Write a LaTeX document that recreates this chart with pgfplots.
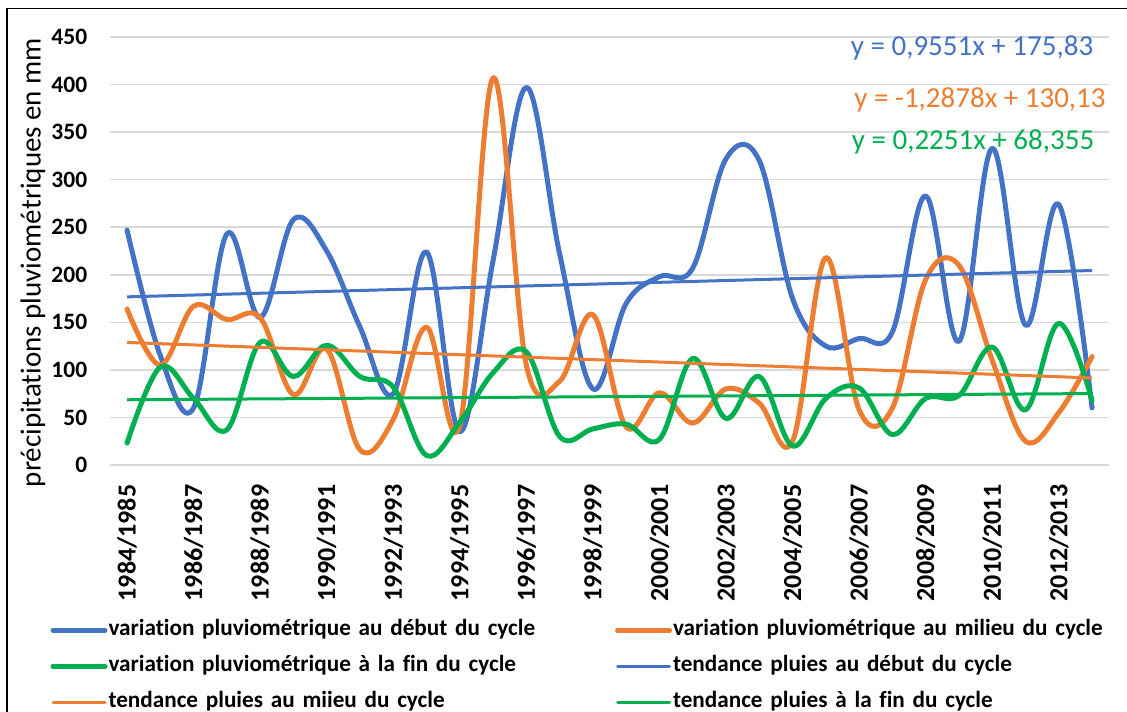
\documentclass[border=0pt]{standalone}
\usepackage{fontspec}
\setmainfont{Carlito}[Ligatures={NoCommon}]
\usepackage{pgfplots}
\pgfplotsset{compat=1.18}
\definecolor{cblue}{HTML}{4472C4}
\definecolor{corange}{HTML}{ED7D31}
\definecolor{cgreen}{HTML}{00B050}
\definecolor{cgrid}{HTML}{D9D9D9}

\pgfplotstableread{
i  deb  mil  fin
0  247  164  23
1  115  105  103
2  60   167  70
3  243  153  37
4  155  155  129
5  258  74   93
6  225  122  126
7  145  16   93
8  75   48   82
9  224  145  10
10 35   42   45
11 215  407  97
12 397  105  119
13 222  88   30
14 80   158  38
15 170  40   43
16 198  76   27
17 207  44   112
18 322  80   49
19 320  65   93
20 175  25   20
21 125  218  70
22 133  58   81
23 140  60   32
24 283  195  70
25 130  210  73
26 333  110  124
27 147  25   58
28 274  55   149
29 60   114  68
}\datatable

\begin{document}
\begin{tikzpicture}[x=1pt,y=1pt]
\useasboundingbox (0,0) rectangle (1127,712);
\draw[line width=1.5pt] (7,-20) -- (7,703.5) -- (1150,703.5);
\begin{axis}[
  at={(110.4pt,247pt)}, anchor=south west,
  scale only axis, width=998.3pt, height=428pt,
  xmin=-0.5, xmax=29.5, ymin=0, ymax=450,
  axis line style={draw=none},
  major tick length=0pt,
  ymajorgrids, grid style={cgrid, line width=1.5pt},
  ytick={0,50,...,450},
  xtick={0,2,...,28},
  xticklabels={1984/1985,1986/1987,1988/1989,1990/1991,1992/1993,1994/1995,1996/1997,1998/1999,2000/2001,2002/2003,2004/2005,2006/2007,2008/2009,2010/2011,2012/2013},
  /pgf/number format/assume math mode=true,
  y tick label style={font=\fontsize{23.5}{28}\bfseries\selectfont, inner sep=0pt, anchor=east, xshift=-23pt},
  x tick label style={font=\fontsize{26}{30}\bfseries\selectfont, inner sep=0pt, yshift=-19.5pt, rotate=90, anchor=east},
  legend columns=2,
  legend cell align=left,
  legend style={at={(-0.06,-0.3616)}, anchor=north west, draw=none, fill=none,
    inner sep=0pt, outer sep=0pt, row sep=15pt,
    font=\fontsize{23.2}{27}\bfseries\selectfont,
    nodes={inner sep=0pt, text height=16pt, text depth=5pt, text width=455pt, align=left},
    /tikz/every odd column/.append style={column sep=1pt},
    /tikz/every even column/.append style={column sep=51.5pt}},
  legend image code/.code={\draw[#1, line cap=round] (2.5pt,0pt) -- (54.5pt,0pt);},
]
\addplot[cblue, line width=5pt, smooth, tension=0.6, line cap=round, line join=round] table[x=i, y=deb] {\datatable};
\addlegendentry{variation pluviométrique au début du cycle}
\addplot[corange, line width=5pt, smooth, tension=0.6, line cap=round, line join=round] table[x=i, y=mil] {\datatable};
\addlegendentry{variation pluviométrique au milieu du cycle}
\addplot[cgreen, line width=5pt, smooth, tension=0.6, line cap=round, line join=round] table[x=i, y=fin] {\datatable};
\addlegendentry{variation pluviométrique à la fin du cycle}
\addplot[cblue, line width=3pt] coordinates {(0,176.79) (29,204.48)};
\addlegendentry{tendance pluies au début du cycle}
\addplot[corange, line width=3pt] coordinates {(0,128.84) (29,91.50)};
\addlegendentry{tendance pluies au miieu du cycle}
\addplot[cgreen, line width=3pt] coordinates {(0,68.58) (29,75.11)};
\addlegendentry{tendance pluies à la fin du cycle}
\end{axis}
\node[rotate=90, font=\fontsize{29}{34}\selectfont, inner sep=0pt] at (33,449.5) {précipitations pluviométriques en mm};
\node[font=\fontsize{29}{34}\selectfont, text=cblue, inner sep=0pt] at (972,664) {y = 0,9551x + 175,83};
\node[font=\fontsize{29}{34}\selectfont, text=corange, inner sep=0pt] at (980,612) {y = -1,2878x + 130,13};
\node[font=\fontsize{29}{34}\selectfont, text=cgreen, inner sep=0pt] at (973,570) {y = 0,2251x + 68,355};
\end{tikzpicture}
\end{document}
